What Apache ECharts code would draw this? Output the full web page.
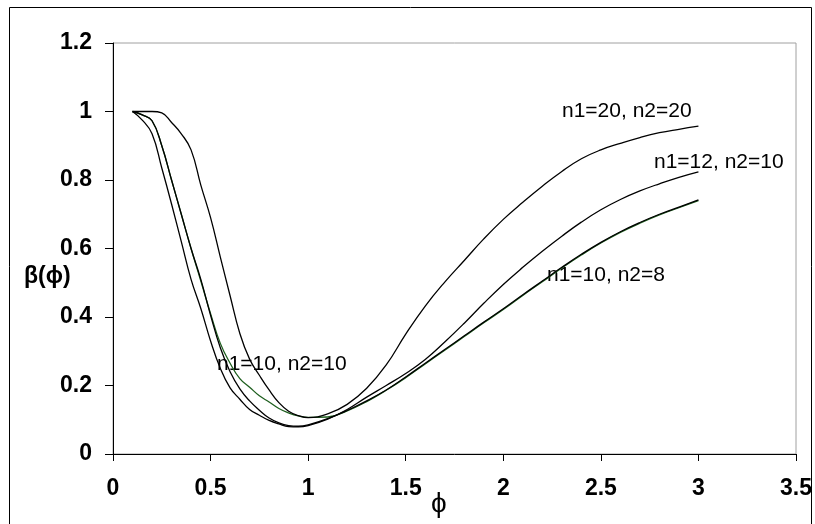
<!DOCTYPE html>
<html><head><meta charset="utf-8">
<script src="https://cdn.jsdelivr.net/npm/echarts@6/dist/echarts.min.js"></script>
<style>html,body{margin:0;padding:0;background:#fff}#c{width:815px;height:524px}</style>
</head><body><div id="c"></div>
<script>
// phi values (x axis)
const phi = [0.1,0.15,0.2,0.25,0.3,0.35,0.4,0.45,0.5,0.55,0.6,0.65,0.7,0.75,0.8,0.85,0.9,0.95,1.0,
             1.1,1.2,1.3,1.4,1.5,1.6,1.7,1.8,1.9,2.0,2.1,2.2,2.3,2.4,2.5,2.6,2.7,2.8,2.9,3.0];
// beta(phi) curves
const beta_20_20 = [1.0,1.0,1.0,0.996,0.968,0.935,0.888,0.785,0.69,0.575,0.462,0.352,0.277,0.23,0.187,0.15,0.125,0.112,0.106,
                    0.117,0.145,0.192,0.26,0.35,0.432,0.502,0.565,0.628,0.685,0.735,0.782,0.825,0.862,0.888,0.907,0.924,0.938,0.948,0.957];
const beta_12_10 = [1.0,0.975,0.935,0.835,0.73,0.62,0.51,0.425,0.33,0.25,0.193,0.16,0.13,0.113,0.098,0.088,0.08,0.079,0.083,
                    0.102,0.13,0.166,0.2,0.235,0.276,0.327,0.382,0.44,0.495,0.545,0.592,0.636,0.677,0.713,0.743,0.768,0.789,0.808,0.824];
const beta_10_8  = [1.0,0.99,0.973,0.90,0.80,0.70,0.60,0.51,0.405,0.31,0.24,0.19,0.155,0.128,0.105,0.091,0.083,0.081,0.085,
                    0.103,0.127,0.155,0.187,0.225,0.265,0.305,0.345,0.385,0.424,0.465,0.505,0.545,0.583,0.618,0.649,0.676,0.70,0.721,0.742];
const beta_10_10 = [1.0,0.99,0.973,0.90,0.80,0.70,0.60,0.505,0.41,0.323,0.265,0.22,0.195,0.17,0.152,0.133,0.12,0.111,0.107,
                    0.108,0.126,0.153,0.186,0.223,0.263,0.303,0.343,0.383,0.422,0.463,0.503,0.543,0.581,0.616,0.647,0.674,0.698,0.719,0.74];
const seriesNames = ['n1=10, n2=10','n1=20, n2=20','n1=12, n2=10','n1=10, n2=8'];
const seriesValues = [beta_10_10, beta_20_20, beta_12_10, beta_10_8];
const seriesColors = ['#1f5f1f','#000000','#000000','#000000'];

const chart = echarts.init(document.getElementById('c'), null, {renderer:'canvas'});
const fam = '"Liberation Sans", Arial, sans-serif';
const textStyle = {fontFamily: fam, fontSize: 21, fill: '#000'};

chart.setOption({
  animation: false,
  backgroundColor: '#fff',
  grid: {left: 113, top: 43, right: 17, bottom: 70, show: true, borderColor: '#a0a0a0', borderWidth: 1},
  xAxis: {
    type: 'value', min: 0, max: 3.5, interval: 0.5,
    axisLine: {show: true, lineStyle: {color: '#000', width: 1}},
    axisTick: {show: true, length: 7, lineStyle: {color: '#000'}},
    splitLine: {show: false},
    axisLabel: {fontFamily: fam, fontSize: 23, fontWeight: 'bold', color: '#000', margin: 23}
  },
  yAxis: {
    type: 'value', min: 0, max: 1.2, interval: 0.2,
    axisLine: {show: true, lineStyle: {color: '#000', width: 1}},
    axisTick: {show: true, length: 8, lineStyle: {color: '#000'}},
    splitLine: {show: false},
    axisLabel: {fontFamily: fam, fontSize: 23, fontWeight: 'bold', color: '#000', margin: 21}
  },
  series: seriesValues.map((vals, k) => ({
    name: seriesNames[k], type: 'line', showSymbol: false, smooth: 0.45,
    lineStyle: {color: seriesColors[k], width: 1.3}, z: k === 0 ? 2 : 3,
    data: phi.map((x, i) => [x, vals[i]])
  })),
  graphic: [
    {type: 'rect', shape: {x: 9.5, y: 7.5, width: 802, height: 540}, style: {fill: 'none', stroke: '#000', lineWidth: 1}, silent: true},
    {type: 'text', left: 562, top: 101, style: Object.assign({text: 'n1=20, n2=20'}, textStyle)},
    {type: 'text', left: 654, top: 152, style: Object.assign({text: 'n1=12, n2=10'}, textStyle)},
    {type: 'text', left: 547, top: 265, style: Object.assign({text: 'n1=10, n2=8'}, textStyle)},
    {type: 'text', left: 217, top: 354, style: Object.assign({text: 'n1=10, n2=10'}, textStyle)},
    {type: 'text', left: 24, top: 265, style: {text: 'β(ϕ)', fontFamily: fam, fontSize: 23, fontWeight: 'bold', fill: '#000'}},
    {type: 'text', left: 431, top: 490, style: {text: 'ϕ', fontFamily: fam, fontSize: 28, fill: '#000'}}
  ]
});
</script></body></html>
